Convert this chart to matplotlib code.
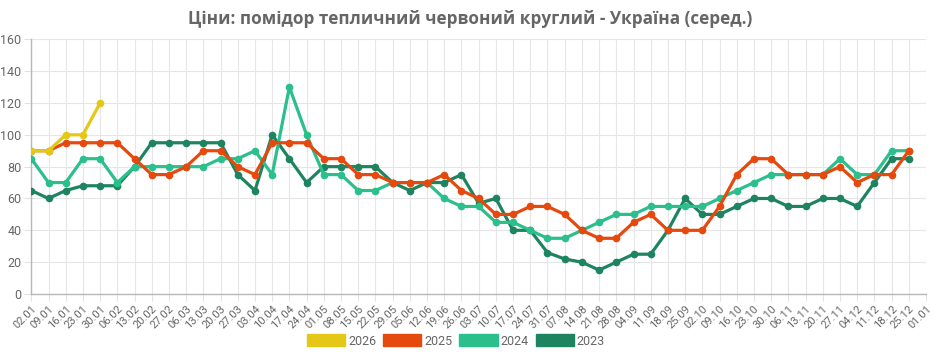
import matplotlib
matplotlib.use("Agg")
import matplotlib.pyplot as plt
from matplotlib.patches import Patch

plt.rcParams['font.family'] = ['Roboto', 'DejaVu Sans']

title = "Ціни: помідор тепличний червоний круглий - Україна (серед.)"
dates = ["02.01", "09.01", "16.01", "23.01", "30.01", "06.02", "13.02", "20.02", "27.02",
         "06.03", "13.03", "20.03", "27.03", "03.04", "10.04", "17.04", "24.04", "01.05",
         "08.05", "15.05", "22.05", "29.05", "05.06", "12.06", "19.06", "26.06", "03.07",
         "10.07", "17.07", "24.07", "31.07", "07.08", "14.08", "21.08", "28.08", "04.09",
         "11.09", "18.09", "25.09", "02.10", "09.10", "16.10", "23.10", "30.10", "06.11",
         "13.11", "20.11", "27.11", "04.12", "11.12", "18.12", "25.12", "01.01"]

y2026 = [90, 90, 100, 100, 120]
y2025 = [90, 90, 95, 95, 95, 95, 85, 75, 75, 80, 90, 90, 80, 75, 95, 95, 95, 85, 85, 75,
         75, 70, 70, 70, 75, 65, 60, 50, 50, 55, 55, 50, 40, 35, 35, 45, 50, 40, 40, 40,
         55, 75, 85, 85, 75, 75, 75, 80, 70, 75, 75, 90]
y2024 = [85, 70, 70, 85, 85, 70, 80, 80, 80, 80, 80, 85, 85, 90, 75, 130, 100, 75, 75, 65,
         65, 70, 70, 70, 60, 55, 55, 45, 45, 40, 35, 35, 40, 45, 50, 50, 55, 55, 55, 55,
         60, 65, 70, 75, 75, 75, 75, 85, 75, 75, 90, 90]
y2023 = [65, 60, 65, 68, 68, 68, 80, 95, 95, 95, 95, 95, 75, 65, 100, 85, 70, 80, 80, 80,
         80, 70, 65, 70, 70, 75, 57, 60, 40, 40, 26, 22, 20, 15, 20, 25, 25, 40, 60, 50,
         50, 55, 60, 60, 55, 55, 60, 60, 55, 70, 85, 85]

series = [("2026", y2026, "#E5C817"),
          ("2025", y2025, "#E5490E"),
          ("2024", y2024, "#2BBF8C"),
          ("2023", y2023, "#1E8460")]

fig = plt.figure(figsize=(9.33, 3.57), dpi=100)
ax = fig.add_axes([31.3/933, 1-294/357, (926-31.3)/933, (294-39.3)/357])

n = len(series)
for k, (name, vals, col) in enumerate(series):
    ax.plot(range(len(vals)), vals, color=col, lw=2.3, marker='o', ms=5.5,
            markeredgewidth=0, zorder=10 + (n - k), solid_joinstyle='round')

ax.set_xlim(0, len(dates) - 1)
ax.set_ylim(0, 160)
ax.set_yticks(range(0, 161, 20))
ax.set_xticks(range(len(dates)))
ax.set_xticklabels(dates, rotation=45, ha='right', rotation_mode='anchor')
ax.tick_params(axis='x', labelsize=8, colors='#666666', length=5, color='#e3e3e3', pad=2)
ax.tick_params(axis='y', labelsize=9, colors='#666666', length=5, color='#e3e3e3', pad=2)
for lab in ax.get_xticklabels() + ax.get_yticklabels():
    lab.set_color('#666666')
ax.grid(True, color='#e6e6e6', lw=0.8)
ax.set_axisbelow(True)
for s in ['top', 'right']:
    ax.spines[s].set_visible(False)
for s in ['left', 'bottom']:
    ax.spines[s].set_color('#b8b8b8')
    ax.spines[s].set_linewidth(1)

fig.text(470/933, 1 - 19/357, title, ha='center', va='center', fontsize=12.3,
         fontweight='bold', color='#666666', family=['Open Sans', 'DejaVu Sans'])

handles = [Patch(facecolor=col, edgecolor=col, label=name) for name, vals, col in series]
fig.legend(handles=handles, loc='center', bbox_to_anchor=(456/933, 1 - 341/357),
           ncol=4, frameon=False, fontsize=9, handlelength=3.05, handleheight=1.05,
           columnspacing=0.55, handletextpad=0.25, labelcolor='#666666')

fig.savefig("out.png", dpi=100)
